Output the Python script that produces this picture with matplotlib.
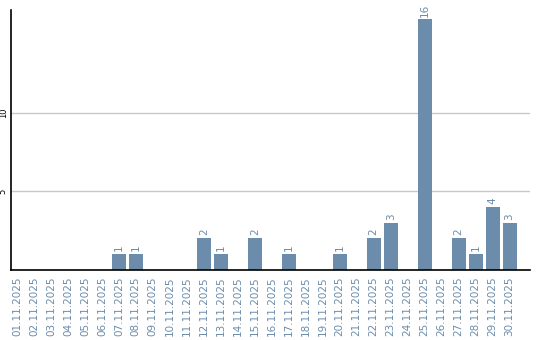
import matplotlib
matplotlib.use("Agg")
import matplotlib.pyplot as plt

days = [f"{d:02d}.11.2025" for d in range(1, 31)]
counts = [0, 0, 0, 0, 0, 0, 1, 1, 0, 0,
          0, 2, 1, 0, 2, 0, 1, 0, 0, 1,
          0, 2, 3, 0, 16, 0, 2, 1, 4, 3]
y_ticks = [5, 10]

BAR = "#6b8cab"

fig = plt.figure(figsize=(5.4, 3.4), dpi=100)
ax = fig.add_axes([10.5 / 540, 1 - 269.5 / 340, 519.5 / 540, 259.5 / 340])

xs = list(range(len(days)))
ax.bar(xs, counts, width=0.82, color=BAR, zorder=3)
for x, v in zip(xs, counts):
    if v > 0:
        ax.annotate(str(v), (x, v), xytext=(0, 2), textcoords="offset points",
                    ha="center", va="bottom", rotation=90, fontsize=7.5,
                    color=BAR, zorder=4)

ax.set_xlim(-0.38, 30.2)
ax.set_ylim(0, 16.6)
ax.set_xticks(xs)
ax.set_xticklabels(days, rotation=90, fontsize=7.5, color=BAR)
ax.set_yticks(y_ticks)
ax.set_yticklabels([str(t) for t in y_ticks], rotation=90, fontsize=6,
                   va="center")
ax.tick_params(length=0, pad=5)
ax.tick_params(axis="y", pad=2)
ax.grid(axis="y", color="#c8c8c8", linewidth=1, zorder=0)
for s in ("top", "right"):
    ax.spines[s].set_visible(False)
for s in ("left", "bottom"):
    ax.spines[s].set_linewidth(1.2)
    ax.spines[s].set_zorder(5)

fig.savefig("out.png", dpi=100, facecolor="white")
